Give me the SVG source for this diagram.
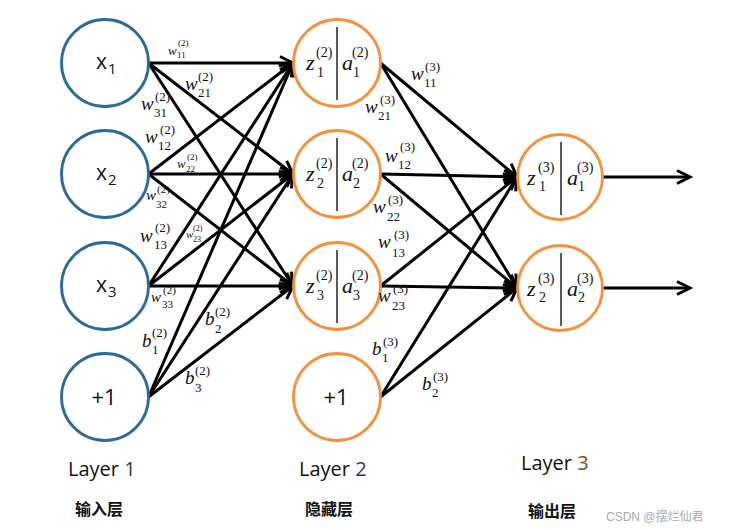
<svg xmlns="http://www.w3.org/2000/svg" width="740" height="530" viewBox="0 0 740 530">
<style>
.l1{fill:#fff;stroke:#2b6b98;stroke-width:2.8}
.l2{fill:#fff;stroke:#f5913e;stroke-width:2.8}
.dv{stroke:#333;stroke-width:1.6}
.c{stroke:#000;stroke-width:3;fill:none;marker-end:url(#ah)}
.sn{font-family:"Open Sans","Liberation Sans",sans-serif;fill:#111}
.m{font-family:"Liberation Serif","DejaVu Serif",serif;font-style:italic;fill:#111}
.u{font-family:"Liberation Serif","DejaVu Serif",serif;fill:#111}
.nb{font-size:22px}.ns{font-size:14px}
.wb{font-size:19px}.ws{font-size:13px}
.wm{font-size:15px}.wt{font-size:11px}
.sb{font-size:13px}.ss{font-size:9px}
.tb{font-size:11px}.ts{font-size:8px}
.lay{font-family:"Open Sans","Liberation Sans",sans-serif;font-size:20px;fill:#111}
.cn{font-family:"Noto Sans CJK SC",sans-serif;font-size:16px;font-weight:bold;fill:#111}
</style>
<defs>
<marker id="ah" markerUnits="userSpaceOnUse" markerWidth="18" markerHeight="16" refX="14" refY="7" orient="auto" overflow="visible">
<path d="M1,0.5 L14,7 L1,13.5" fill="none" stroke="#000" stroke-width="3"/>
</marker>
</defs>
<rect width="740" height="530" fill="#fff"/>
<g id="connectors">
<line class="c" x1="148.5" y1="63" x2="293" y2="63"/>
<line class="c" x1="148.5" y1="63" x2="293" y2="174"/>
<line class="c" x1="148.5" y1="63" x2="293" y2="286"/>
<line class="c" x1="148.5" y1="174" x2="293" y2="63"/>
<line class="c" x1="148.5" y1="174" x2="293" y2="174"/>
<line class="c" x1="148.5" y1="174" x2="293" y2="286"/>
<line class="c" x1="148.5" y1="286" x2="293" y2="63"/>
<line class="c" x1="148.5" y1="286" x2="293" y2="174"/>
<line class="c" x1="148.5" y1="286" x2="293" y2="286"/>
<line class="c" x1="148.5" y1="397" x2="293" y2="63"/>
<line class="c" x1="148.5" y1="397" x2="293" y2="174"/>
<line class="c" x1="148.5" y1="397" x2="293" y2="286"/>
<line class="c" x1="380.5" y1="63" x2="517" y2="177"/>
<line class="c" x1="380.5" y1="63" x2="517" y2="288"/>
<line class="c" x1="380.5" y1="174" x2="517" y2="177"/>
<line class="c" x1="380.5" y1="174" x2="517" y2="288"/>
<line class="c" x1="380.5" y1="286" x2="517" y2="177"/>
<line class="c" x1="380.5" y1="286" x2="517" y2="288"/>
<line class="c" x1="380.5" y1="397" x2="517" y2="177"/>
<line class="c" x1="380.5" y1="397" x2="517" y2="288"/>
<line class="c" x1="603" y1="177" x2="690" y2="177"/>
<line class="c" x1="603" y1="288" x2="690" y2="288"/>
</g>
<g id="x1"><circle class="l1" cx="105" cy="63" r="43.5"/><text class="sn" x="96" y="69" font-size="21">x</text><text class="sn" x="108" y="74" font-size="15">1</text></g>
<g id="x2"><circle class="l1" cx="105" cy="174" r="43.5"/><text class="sn" x="96" y="180" font-size="21">x</text><text class="sn" x="108" y="185" font-size="15">2</text></g>
<g id="x3"><circle class="l1" cx="105" cy="286" r="43.5"/><text class="sn" x="96" y="292" font-size="21">x</text><text class="sn" x="108" y="297" font-size="15">3</text></g>
<g id="bias1"><circle class="l1" cx="105" cy="397" r="43.5"/><text class="sn" x="104" y="405" font-size="22" text-anchor="middle">+1</text></g>
<g id="h1"><circle class="l2" cx="337" cy="63" r="43.5"/><line class="dv" x1="337" y1="27" x2="337" y2="100"/>
<text class="m nb" x="306" y="70">z</text><text class="u ns" x="317" y="77">1</text><text class="u ns" x="316" y="57">(2)</text>
<text class="m nb" x="342" y="70">a</text><text class="u ns" x="353" y="77">1</text><text class="u ns" x="352" y="57">(2)</text></g>
<g id="h2"><circle class="l2" cx="337" cy="174" r="43.5"/><line class="dv" x1="337" y1="138" x2="337" y2="211"/>
<text class="m nb" x="306" y="181">z</text><text class="u ns" x="317" y="188">2</text><text class="u ns" x="316" y="168">(2)</text>
<text class="m nb" x="342" y="181">a</text><text class="u ns" x="353" y="188">2</text><text class="u ns" x="352" y="168">(2)</text></g>
<g id="h3"><circle class="l2" cx="337" cy="286" r="43.5"/><line class="dv" x1="337" y1="250" x2="337" y2="323"/>
<text class="m nb" x="306" y="293">z</text><text class="u ns" x="317" y="300">3</text><text class="u ns" x="316" y="280">(2)</text>
<text class="m nb" x="342" y="293">a</text><text class="u ns" x="353" y="300">3</text><text class="u ns" x="352" y="280">(2)</text></g>
<g id="bias2"><circle class="l2" cx="337" cy="397" r="43.5"/><text class="sn" x="336" y="405" font-size="22" text-anchor="middle">+1</text></g>
<g id="o1"><circle class="l2" cx="560" cy="177" r="42.5"/><line class="dv" x1="561" y1="142" x2="561" y2="215"/>
<text class="m nb" x="527" y="185">z</text><text class="u ns" x="539" y="191">1</text><text class="u ns" x="538" y="172">(3)</text>
<text class="m nb" x="567" y="185">a</text><text class="u ns" x="578" y="191">1</text><text class="u ns" x="577" y="172">(3)</text></g>
<g id="o2"><circle class="l2" cx="560" cy="288" r="42.5"/><line class="dv" x1="561" y1="253" x2="561" y2="326"/>
<text class="m nb" x="527" y="296">z</text><text class="u ns" x="539" y="302">2</text><text class="u ns" x="538" y="283">(3)</text>
<text class="m nb" x="567" y="296">a</text><text class="u ns" x="578" y="302">2</text><text class="u ns" x="577" y="283">(3)</text></g>
<g id="weights">
<text class="m sb" x="168" y="55">w</text><text class="u ss" x="177" y="58">11</text><text class="u ss" x="178" y="46">(2)</text>
<text class="m wb" x="185" y="90">w</text><text class="u ws" x="198" y="97">21</text><text class="u ws" x="198" y="81">(2)</text>
<text class="m wb" x="141" y="110">w</text><text class="u ws" x="154" y="117">31</text><text class="u ws" x="155" y="101">(2)</text>
<text class="m wb" x="145" y="143">w</text><text class="u ws" x="158" y="150">12</text><text class="u ws" x="160" y="134">(2)</text>
<text class="m sb" x="177" y="168">w</text><text class="u ss" x="186" y="172">22</text><text class="u ss" x="187" y="160">(2)</text>
<text class="m wm" x="146" y="200">w</text><text class="u wt" x="156" y="208">32</text><text class="u wt" x="157" y="193">(2)</text>
<text class="m wb" x="140" y="242">w</text><text class="u ws" x="154" y="249">13</text><text class="u ws" x="155" y="232">(2)</text>
<text class="m tb" x="186" y="238">w</text><text class="u ts" x="193" y="242">23</text><text class="u ts" x="193" y="231">(2)</text>
<text class="m wm" x="151" y="302">w</text><text class="u wt" x="162" y="308">33</text><text class="u wt" x="163" y="294">(2)</text>
<text class="m wb" x="142" y="347">b</text><text class="u ws" x="152" y="354">1</text><text class="u ws" x="152" y="337">(2)</text>
<text class="m wb" x="205" y="325">b</text><text class="u ws" x="215" y="333">2</text><text class="u ws" x="215" y="316">(2)</text>
<text class="m wb" x="185" y="384">b</text><text class="u ws" x="195" y="392">3</text><text class="u ws" x="195" y="375">(2)</text>
<text class="m wb" x="411" y="80">w</text><text class="u ws" x="424" y="87">11</text><text class="u ws" x="425" y="71">(3)</text>
<text class="m wb" x="365" y="113">w</text><text class="u ws" x="378" y="120">21</text><text class="u ws" x="380" y="104">(3)</text>
<text class="m wb" x="385" y="162">w</text><text class="u ws" x="398" y="169">12</text><text class="u ws" x="400" y="151">(3)</text>
<text class="m wb" x="373" y="213">w</text><text class="u ws" x="387" y="221">22</text><text class="u ws" x="388" y="204">(3)</text>
<text class="m wb" x="378" y="248">w</text><text class="u ws" x="392" y="257">13</text><text class="u ws" x="394" y="239">(3)</text>
<text class="m wb" x="378" y="302">w</text><text class="u ws" x="392" y="310">23</text><text class="u ws" x="393" y="293">(3)</text>
<text class="m wb" x="372" y="355">b</text><text class="u ws" x="382" y="362">1</text><text class="u ws" x="383" y="346">(3)</text>
<text class="m wb" x="422" y="390">b</text><text class="u ws" x="432" y="397">2</text><text class="u ws" x="433" y="381">(3)</text>
</g>
<g id="labels">
<text class="lay" x="68" y="476">Layer <tspan fill="#1f3a5f">1</tspan></text>
<text class="lay" x="299" y="476">Layer <tspan fill="#1f3a5f">2</tspan></text>
<text class="lay" x="521" y="470">Layer <tspan fill="#7a4a20">3</tspan></text>
<text class="cn" x="75" y="515">输入层</text>
<text class="cn" x="305" y="515">隐藏层</text>
<text class="cn" x="528" y="517">输出层</text>
<text x="606" y="521" font-family="'Liberation Sans','Noto Sans CJK SC',sans-serif" font-size="12" fill="#aaa">CSDN @摆烂仙君</text>
</g>
</svg>
